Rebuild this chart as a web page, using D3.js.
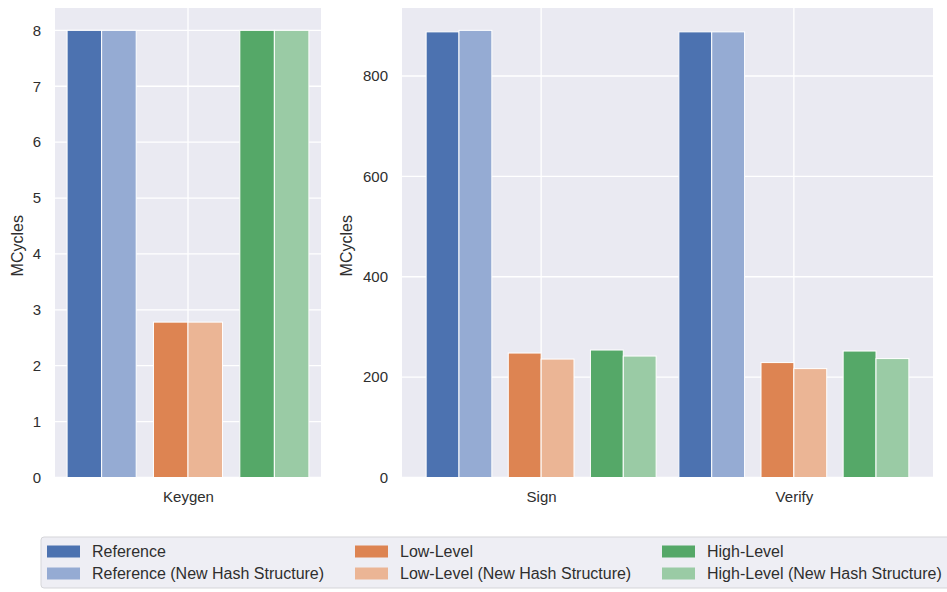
<!DOCTYPE html>
<html>
<head>
<meta charset="utf-8">
<script src="https://cdn.jsdelivr.net/npm/d3@7"></script>
<style>
  body { margin: 0; background: #fff; }
  svg { display: block; font-family: "Liberation Sans", Arial, sans-serif; }
</style>
</head>
<body>
<svg id="chart" width="947" height="592"></svg>
<script>
const seriesNames = [
  "Reference",
  "Reference (New Hash Structure)",
  "Low-Level",
  "Low-Level (New Hash Structure)",
  "High-Level",
  "High-Level (New Hash Structure)",
];
const seriesColors = ["#4c72b0", "#95abd3", "#dd8452", "#ebb595", "#55a868", "#9acba5"];

const keygenCategories = ["Keygen"];
const keygenValues = [[8.0, 8.0, 2.78, 2.78, 8.0, 8.0]];
const keygenTicks = [0, 1, 2, 3, 4, 5, 6, 7, 8];

const signVerifyCategories = ["Sign", "Verify"];
const signValues = [888, 891, 248, 236, 254, 242];
const verifyValues = [888, 888, 229, 217, 252, 237];
const signVerifyTicks = [0, 200, 400, 600, 800];

const textColor = "#2e2e2e";
const svg = d3.select("#chart");

function drawPanel(box, categories, values, ticks, barWidth) {
  const w = barWidth;
  // pairs side by side, pairs spaced 2.5 bar widths apart
  const offsets = [-3 * w, -2 * w, -0.5 * w, 0.5 * w, 2 * w, 3 * w];
  const lo = -3.5 * w, hi = categories.length - 1 + 3.5 * w;
  const pad = (hi - lo) * 0.05;

  const x = d3.scaleLinear().domain([lo - pad, hi + pad]).range([box.left, box.right]);
  const yMax = d3.max(values.flat()) * 1.05;
  const y = d3.scaleLinear().domain([0, yMax]).range([box.bottom, box.top]);

  const g = svg.append("g");

  g.append("rect")
    .attr("x", box.left)
    .attr("y", box.top)
    .attr("width", box.right - box.left)
    .attr("height", box.bottom - box.top)
    .attr("fill", "#eaeaf2");

  g.selectAll(".hgrid")
    .data(ticks)
    .join("line")
    .attr("x1", box.left)
    .attr("x2", box.right)
    .attr("y1", (d) => y(d))
    .attr("y2", (d) => y(d))
    .attr("stroke", "#fff")
    .attr("stroke-width", 1.3);

  g.selectAll(".vgrid")
    .data(categories)
    .join("line")
    .attr("x1", (d, i) => x(i))
    .attr("x2", (d, i) => x(i))
    .attr("y1", box.top)
    .attr("y2", box.bottom)
    .attr("stroke", "#fff")
    .attr("stroke-width", 1.3);

  const yAxis = g.append("g")
    .attr("transform", `translate(${box.left},0)`)
    .call(d3.axisLeft(y).tickValues(ticks).tickSize(0).tickPadding(14));
  yAxis.select(".domain").remove();
  yAxis.selectAll("text")
    .attr("fill", textColor)
    .style("font-size", "15px")
    .style("font-family", "Liberation Sans, Arial, sans-serif");

  const xAxis = g.append("g")
    .attr("transform", `translate(0,${box.bottom})`)
    .call(d3.axisBottom(x).tickValues(categories.map((d, i) => i))
      .tickFormat((d) => categories[d]).tickSize(0).tickPadding(14));
  xAxis.select(".domain").remove();
  xAxis.selectAll("text")
    .attr("fill", textColor)
    .style("font-size", "15px")
    .style("font-family", "Liberation Sans, Arial, sans-serif");

  categories.forEach((cat, ci) => {
    g.append("g")
      .selectAll("rect")
      .data(values[ci])
      .join("rect")
      .attr("x", (d, i) => x(ci + offsets[i] - w / 2))
      .attr("width", (d, i) => x(ci + offsets[i] + w / 2) - x(ci + offsets[i] - w / 2))
      .attr("y", (d) => y(d))
      .attr("height", (d) => y(0) - y(d))
      .attr("fill", (d, i) => seriesColors[i])
      .attr("stroke", "#fff")
      .attr("stroke-width", 1);
  });

  g.append("text")
    .attr("transform", `translate(${box.labelX},${(box.top + box.bottom) / 2 + 3}) rotate(-90)`)
    .attr("text-anchor", "middle")
    .attr("fill", textColor)
    .style("font-size", "16px")
    .text("MCycles");
}

drawPanel({ left: 55, right: 321, top: 8, bottom: 477.5, labelX: 23 },
  keygenCategories, keygenValues, keygenTicks, 0.1);

drawPanel({ left: 402, right: 933, top: 8, bottom: 477.5, labelX: 352 },
  signVerifyCategories, [signValues, verifyValues], signVerifyTicks, 0.13);

// legend
const legend = svg.append("g").attr("transform", "translate(41,537)");
legend.append("rect")
  .attr("width", 920)
  .attr("height", 51)
  .attr("rx", 3)
  .attr("fill", "#eeeef4")
  .attr("stroke", "#d5d5d9")
  .attr("stroke-width", 1);

const colX = [6, 314, 621];
const rowY = [14.5, 36.5];

const item = legend.selectAll(".item")
  .data(seriesNames)
  .join("g")
  .attr("transform", (d, i) => `translate(${colX[Math.floor(i / 2)]},${rowY[i % 2]})`);

item.append("rect")
  .attr("x", 0)
  .attr("y", -6)
  .attr("width", 33)
  .attr("height", 12)
  .attr("fill", (d, i) => seriesColors[i]);

item.append("text")
  .attr("x", 45)
  .attr("dy", "0.35em")
  .attr("fill", textColor)
  .style("font-size", "16px")
  .text((d) => d);
</script>
</body>
</html>
